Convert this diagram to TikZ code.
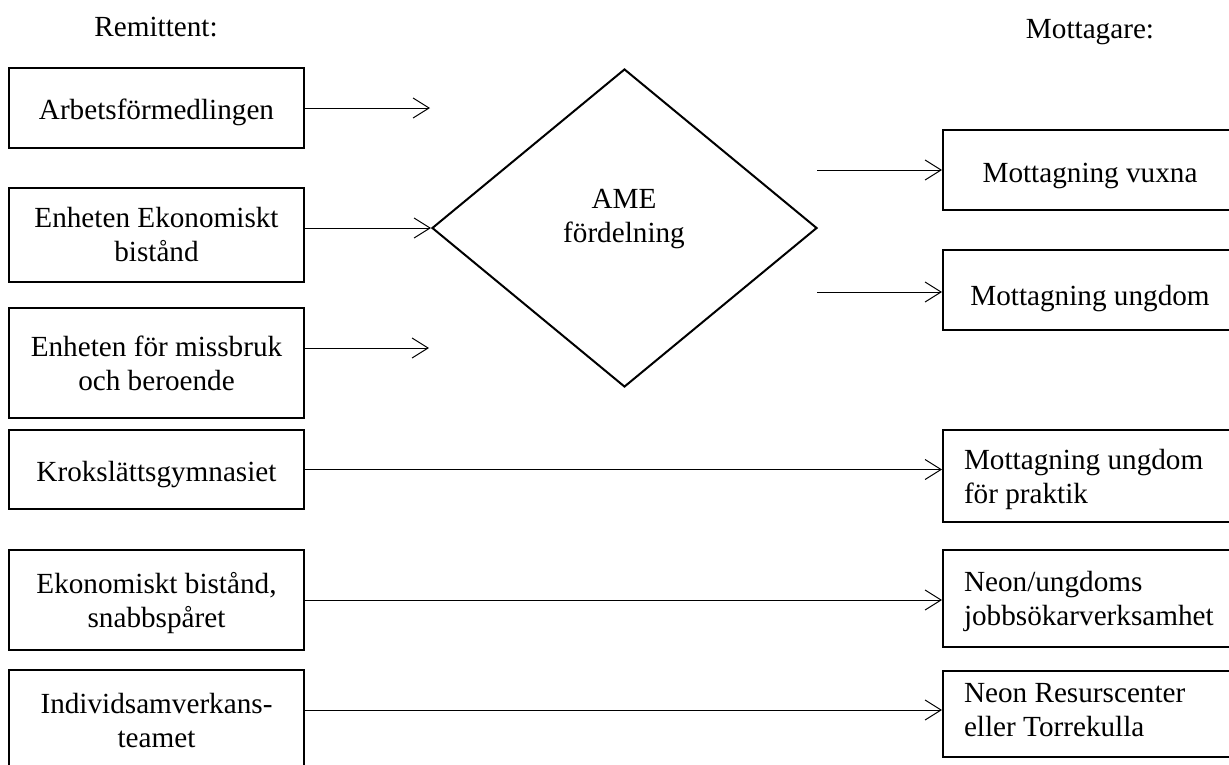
\documentclass[tikz,border=0pt]{standalone}
\usepackage{fontspec}
\setmainfont{Liberation Serif}
\usetikzlibrary{shapes.geometric,arrows.meta}
\newcommand{\firstline}[1]{\makebox[252pt][l]{#1}}
\begin{document}
\begin{tikzpicture}[x=1pt,y=-1pt,
  every node/.style={font=\fontsize{29.2pt}{34pt}\selectfont},
  lbox/.style={draw,line width=2pt,minimum width=295pt,inner sep=0pt,align=center},
  rbox/.style={draw,line width=2pt,minimum width=294pt,inner sep=0pt,align=center},
  rboxl/.style={draw,line width=2pt,minimum width=294pt,inner xsep=21pt,inner ysep=0pt,align=left},
  arr/.style={line width=1pt,-{Straight Barb[length=16pt,width=20pt,line width=1pt]}},
  hdr/.style={anchor=base,inner sep=0pt}
]
\useasboundingbox (0,0) rectangle (1229,764);
\clip (0,0) rectangle (1229,764);

% headers
\node[hdr] (hl) at (156,36) {Remittent:};
\node[hdr] (hr) at (1090,38) {Mottagare:};

% left boxes
\node[lbox,minimum height=80pt,text height=22pt,text depth=0pt]  (l1) at (156.5,108) {Arbetsförmedlingen};
\node[lbox,minimum height=94pt]  (l2) at (156.5,235) {Enheten Ekonomiskt\\bistånd};
\node[lbox,minimum height=110pt] (l3) at (156.5,363) {Enheten för missbruk\\och beroende};
\node[lbox,minimum height=79pt,text height=23pt,text depth=0pt]  (l4) at (156.5,469.5) {Krokslättsgymnasiet};
\node[lbox,minimum height=100pt,text depth=0pt] (l5) at (156.5,600) {Ekonomiskt bistånd,\\snabbspåret};
\node[lbox,minimum height=106pt,text depth=6pt] (l6) at (156.5,723) {Individsamverkans-\\teamet};

% diamond
\node[diamond,draw,line width=2pt,minimum width=385pt,minimum height=318pt,inner sep=0pt] (ame) at (624.5,228) {};
\node[align=center,inner sep=0pt] (ametext) at (624,219) {AME\\fördelning};

% right boxes
\node[rbox,minimum height=80pt,text height=24pt,text depth=0pt] (r1) at (1090,170) {Mottagning vuxna};
\node[rbox,minimum height=80pt,text height=30pt,text depth=0pt] (r2) at (1090,290) {Mottagning ungdom};
\node[rboxl,minimum height=92pt,text depth=0pt] (r3) at (1090,476) {\firstline{Mottagning ungdom}\\för praktik};
\node[rboxl,minimum height=97pt,text depth=0pt] (r4) at (1090,598.5) {\firstline{Neon/ungdoms}\\jobbsökarverksamhet};
\node[rboxl,minimum height=86pt,text depth=8pt] (r5) at (1090,714) {\firstline{Neon Resurscenter}\\eller Torrekulla};

% free ends
\coordinate (c1) at (430,108);
\coordinate (c3) at (429,348);
\coordinate (d1) at (817,170);
\coordinate (d2) at (817,292);

% connectors
\draw[arr] (l1.east) -- (c1);
\draw[arr] (l2.east |- ame.west) -- (ame.west);
\draw[arr] (l3.east |- c3) -- (c3);
\draw[arr] (d1) -- (r1.west);
\draw[arr] (d2) -- (r2.west |- d2);
\draw[arr] (l4.east) -- (l4.east -| r3.west);
\draw[arr] (l5.east) -- (l5.east -| r4.west);
\draw[arr] ([yshift=4pt]r5.west -| l6.east) -- ([yshift=4pt]r5.west);
\end{tikzpicture}
\end{document}
